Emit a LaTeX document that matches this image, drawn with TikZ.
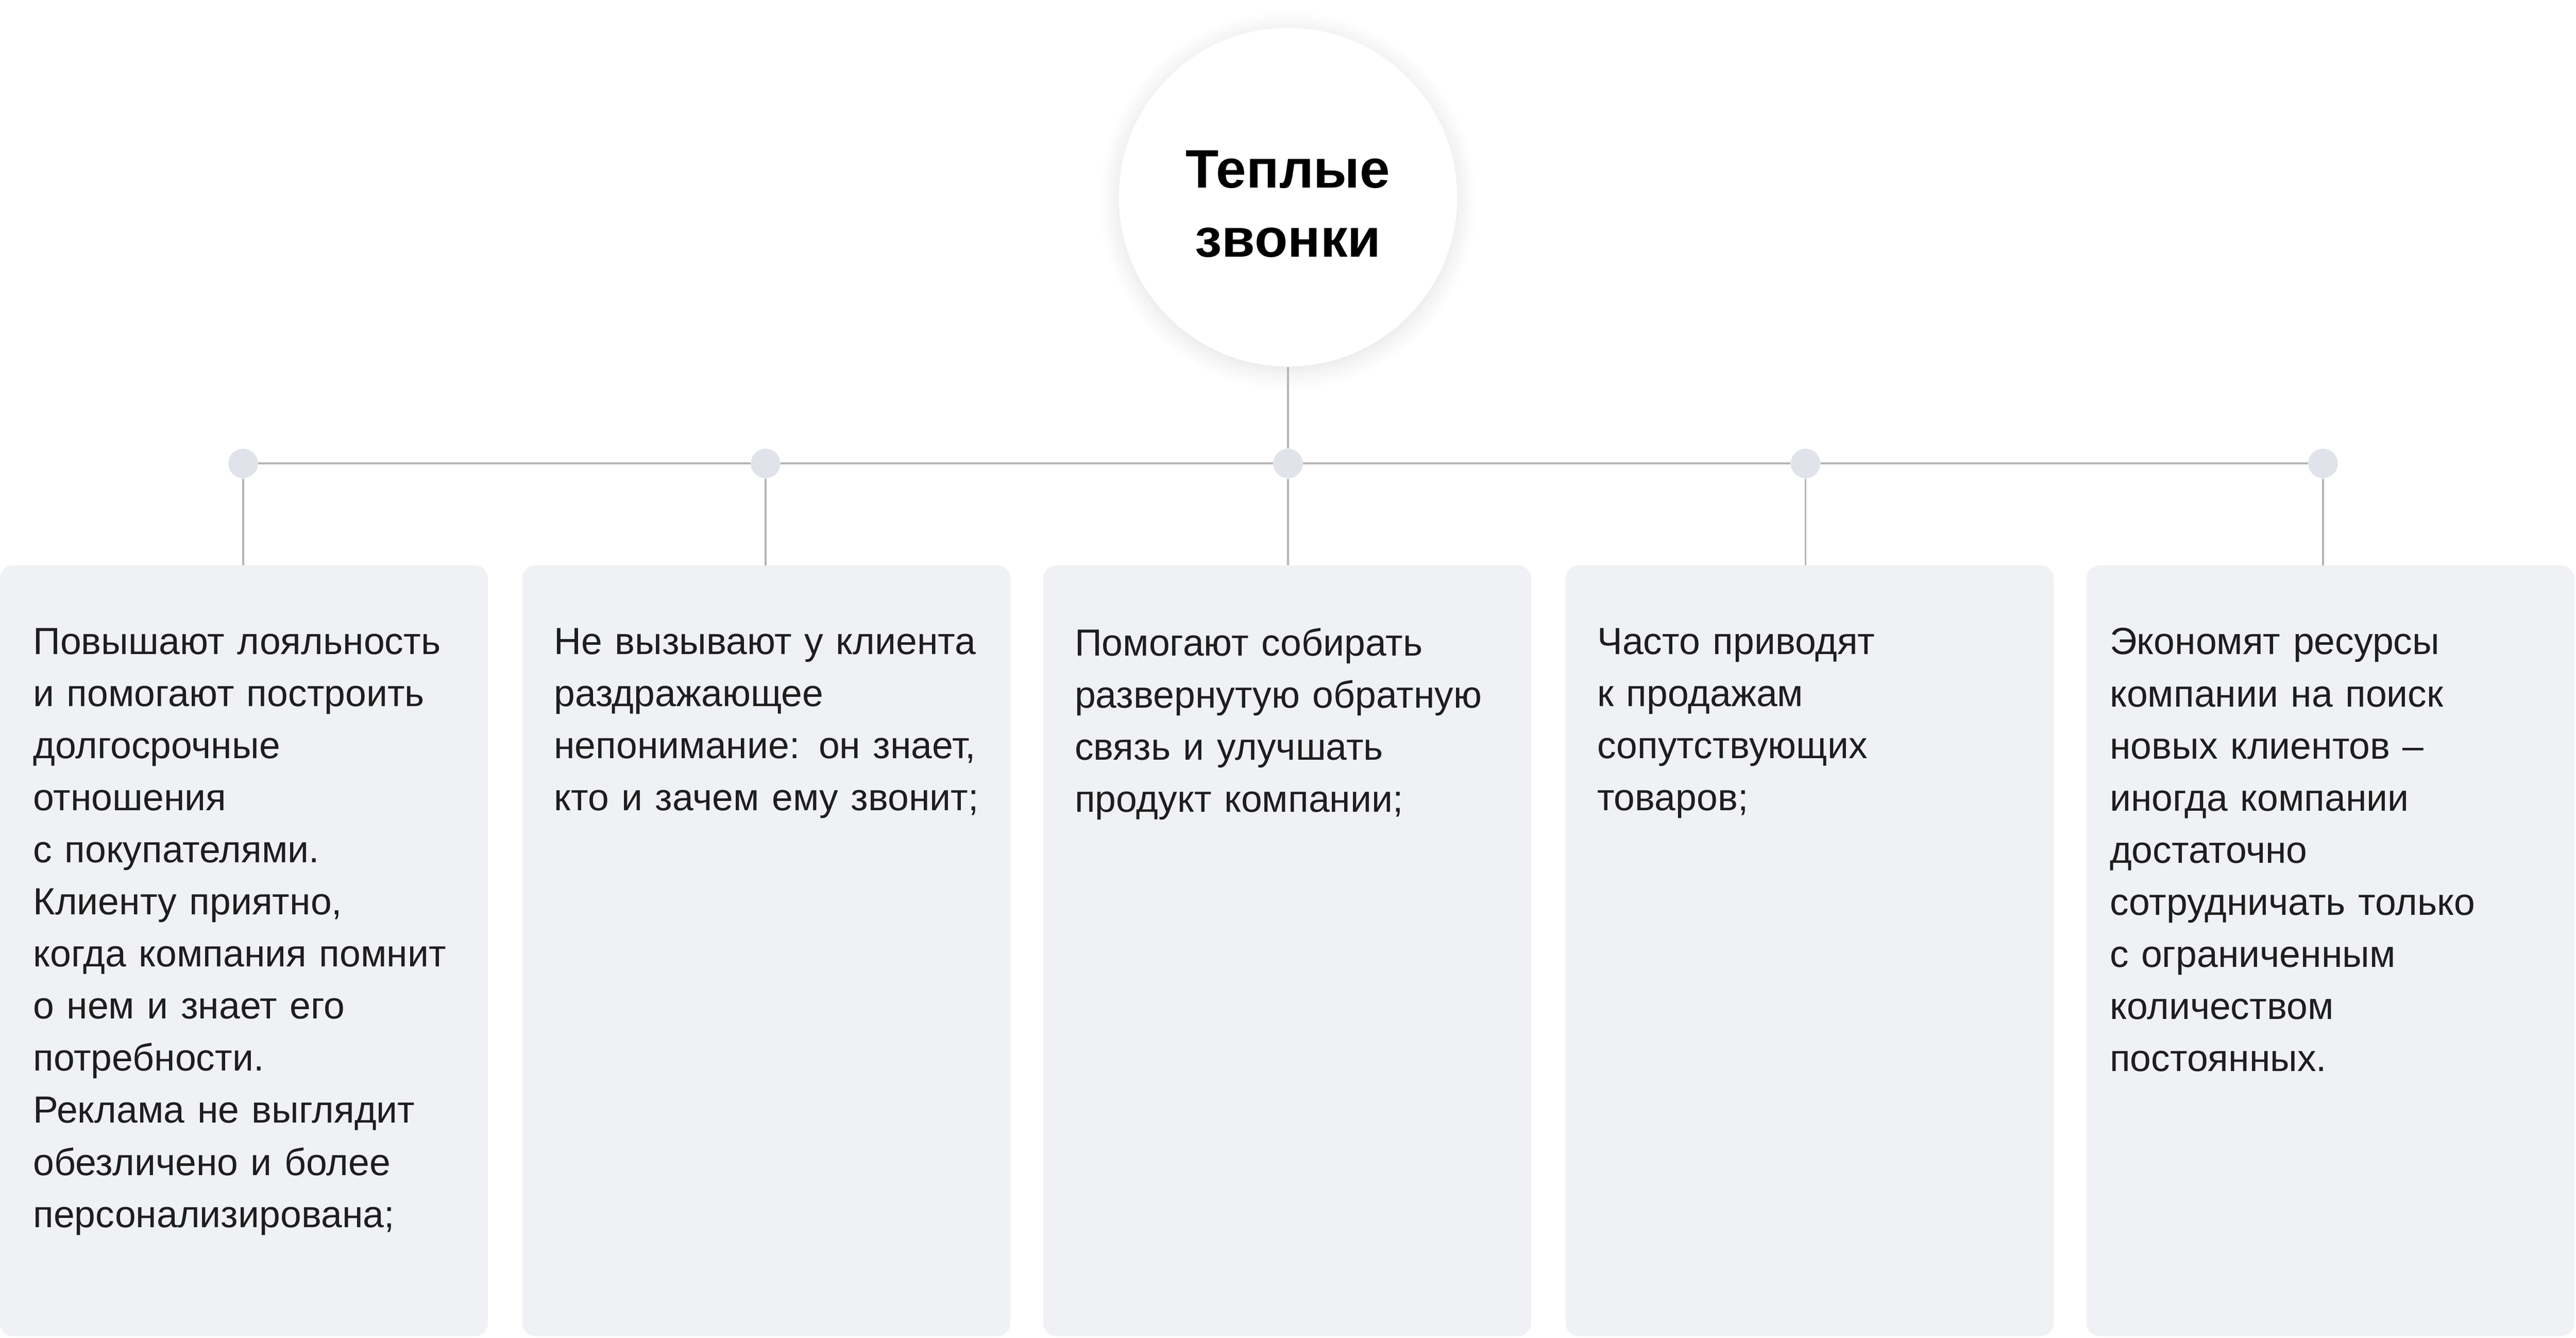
\documentclass[tikz,border=0pt]{standalone}
\usepackage{fontspec}
\setmainfont{Liberation Sans}
\usetikzlibrary{shadows.blur}
\definecolor{boxc}{HTML}{F0F1F5}
\definecolor{dotc}{HTML}{E1E3EA}
\definecolor{linec}{HTML}{B5B5B8}
\definecolor{txt}{HTML}{1E1E1E}
\begin{document}
\begin{tikzpicture}[x=1pt,y=1pt,
  card/.style={fill=boxc,rounded corners=8pt,draw=none},
  dot/.style={circle,fill=dotc,minimum size=18pt,inner sep=0pt},
  conn/.style={draw=linec,line width=1.2pt},
  body/.style={anchor=north west,align=left,text width=280pt,inner sep=0pt,font=\fontsize{23}{31.7}\selectfont,text=txt}]
\useasboundingbox (0,0) rectangle (1568,-814);
\foreach \i/\x in {1/0,2/318,3/635,4/953,5/1270}{
  \path[card] (\x,-344) rectangle ++(297,-469);
  \coordinate (top\i) at (\x+148.5,-344);
}
\node[circle,fill=white,minimum size=206pt,blur shadow={shadow blur steps=10,shadow xshift=0pt,shadow yshift=-2pt,shadow opacity=12,shadow blur radius=12pt}] (c) at (784,-120) {};
\node[font=\bfseries\fontsize{33}{42}\selectfont,align=center,text=black] at (784,-124) {Теплые\\звонки};
\foreach \i/\x in {1/148,2/466,3/784,4/1099,5/1414}{
  \node[dot] (d\i) at (\x,-282) {};
}
\draw[conn] (d1) -- (d2) -- (d3) -- (d4) -- (d5);
\draw[conn] (c.south) -- (d3);
\foreach \i in {1,...,5}{ \draw[conn] (d\i) -- (d\i|-top1); }
\node[body] (t1) at (20,-382) {Повышают лояльность\\и помогают построить\\долгосрочные\\отношения\\с покупателями.\\Клиенту приятно,\\когда компания помнит\\о нем и знает его\\потребности.\\Реклама не выглядит\\обезличено и более\\персонализирована;};
\node[body] (t2) at (337,-382) {Не вызывают у клиента\\раздражающее\\непонимание: он знает,\\кто и зачем ему звонит;};
\node[body] (t3) at (654,-382) {Помогают собирать\\развернутую обратную\\связь и улучшать\\продукт компании;};
\node[body] (t4) at (972,-382) {Часто приводят\\к продажам\\сопутствующих\\товаров;};
\node[body] (t5) at (1284,-382) {Экономят ресурсы\\компании на поиск\\новых клиентов –\\иногда компании\\достаточно\\сотрудничать только\\с ограниченным\\количеством\\постоянных.};
\end{tikzpicture}
\end{document}
